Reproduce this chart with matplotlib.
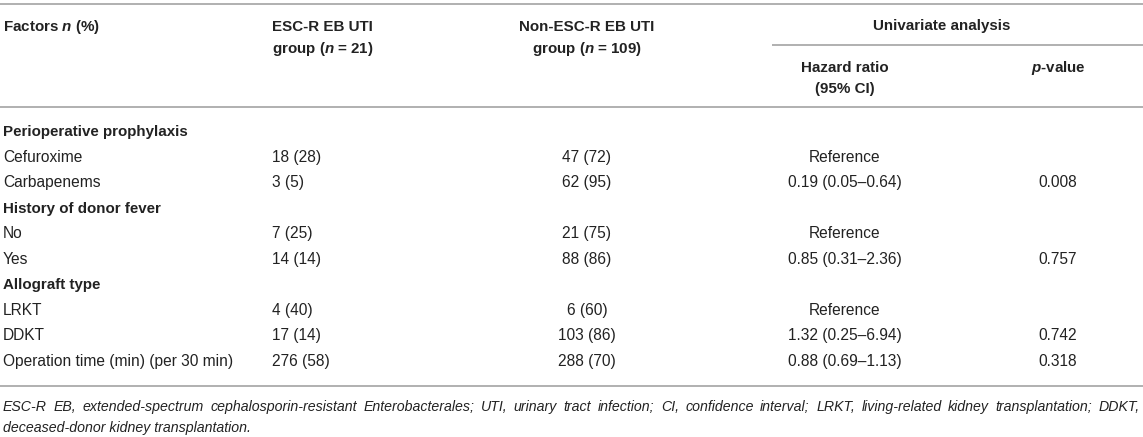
import matplotlib
matplotlib.use("Agg")
import matplotlib.pyplot as plt
from matplotlib import font_manager as fm

# ---------------- data ----------------
factors = ["Perioperative prophylaxis", "Cefuroxime", "Carbapenems",
           "History of donor fever", "No", "Yes",
           "Allograft type", "LRKT", "DDKT",
           "Operation time (min) (per 30 min)"]
is_group = [True, False, False, True, False, False, True, False, False, False]
esc_r = ["", "18 (28)", "3 (5)", "", "7 (25)", "14 (14)", "", "4 (40)", "17 (14)", "276 (58)"]
non_esc_r = ["", "47 (72)", "62 (95)", "", "21 (75)", "88 (86)", "", "6 (60)", "103 (86)", "288 (70)"]
hazard = ["", "Reference", "0.19 (0.05–0.64)", "", "Reference", "0.85 (0.31–2.36)",
          "", "Reference", "1.32 (0.25–6.94)", "0.88 (0.69–1.13)"]
pvals = ["", "", "0.008", "", "", "0.757", "", "", "0.742", "0.318"]

footnote_1 = ("ESC-R EB, extended-spectrum cephalosporin-resistant Enterobacterales; UTI, urinary "
              "tract infection; CI, confidence interval; LRKT, living-related kidney transplantation; DDKT,")
footnote_2 = "deceased-donor kidney transplantation."

# ---------------- style ----------------
names = {f.name for f in fm.fontManager.ttflist}
FAM = "Liberation Sans Narrow" if "Liberation Sans Narrow" in names else "Liberation Sans"
plt.rcParams["font.family"] = [FAM, "DejaVu Sans"]
plt.rcParams["mathtext.fontset"] = "custom"
plt.rcParams["mathtext.it"] = f"{FAM}:bold:italic"
plt.rcParams["mathtext.rm"] = f"{FAM}:bold"
plt.rcParams["mathtext.bf"] = f"{FAM}:bold"

TXT = "#222222"
LINE = "#b0b0b0"
FS = 11.2
FS_BOLD = 10.9
FS_FOOT = 10.2

W, H = 1143, 437
fig = plt.figure(figsize=(W / 100, H / 100), dpi=100)
ax = fig.add_axes([0, 0, 1, 1])
ax.set_xlim(0, W)
ax.set_ylim(H, 0)
ax.axis("off")

# column anchors (pixels)
X_FAC = 3
X_ESC = 272
X_NON = 587
X_HR = 845
X_P = 1058
X_UNI = 942

def hline(y, x0=0, x1=W, lw=1.4):
    ax.plot([x0, x1], [y, y], color=LINE, lw=lw, solid_capstyle="butt")

# rules
hline(3.5)
hline(45, 772, W)
hline(107)
hline(386)

# header
def ht(x, y, s, ha="left"):
    ax.text(x, y, s, ha=ha, va="baseline", fontsize=FS_BOLD, fontweight="bold", color=TXT)

ht(X_FAC, 31, r"Factors $n$ (%)")
ht(X_ESC, 31, "ESC-R EB UTI")
ht(X_ESC, 53, r"group ($n$ = 21)")
ht(X_NON, 31, "Non-ESC-R EB UTI", ha="center")
ht(X_NON, 53, r"group ($n$ = 109)", ha="center")
ht(X_UNI, 30, "Univariate analysis", ha="center")
ht(X_HR, 72, "Hazard ratio", ha="center")
ht(X_HR, 93, "(95% CI)", ha="center")
ht(X_P, 72, r"$p$-value", ha="center")

# body
y0, step = 131, 25.5
for i, fac in enumerate(factors):
    yb = y0 + i * step + 5.2
    ax.text(X_FAC, yb, fac, ha="left", va="baseline",
            fontsize=FS_BOLD if is_group[i] else FS, color=TXT,
            fontweight="bold" if is_group[i] else "normal")
    if esc_r[i]:
        ax.text(X_ESC, yb, esc_r[i], ha="left", va="baseline", fontsize=FS, color=TXT)
    if non_esc_r[i]:
        ax.text(X_NON, yb, non_esc_r[i], ha="center", va="baseline", fontsize=FS, color=TXT)
    if hazard[i]:
        ax.text(X_HR, yb, hazard[i], ha="center", va="baseline", fontsize=FS, color=TXT)
    if pvals[i]:
        ax.text(X_P, yb, pvals[i], ha="center", va="baseline", fontsize=FS, color=TXT)

# footnote (first line justified)
fig.canvas.draw()
renderer = fig.canvas.get_renderer()
words = footnote_1.split(" ")
arts, widths = [], []
for w_ in words:
    t = ax.text(0, 411, w_, ha="left", va="baseline", fontsize=FS_FOOT,
                style="italic", color=TXT)
    arts.append(t)
    widths.append(t.get_window_extent(renderer).width)
x_left, x_right = 3, 1140
gap = (x_right - x_left - sum(widths)) / (len(words) - 1)
x = x_left
for t, wd in zip(arts, widths):
    t.set_x(x)
    x += wd + gap
ax.text(x_left, 432, footnote_2, ha="left", va="baseline", fontsize=FS_FOOT,
        style="italic", color=TXT)

fig.savefig("out.png", dpi=100, facecolor="white")
